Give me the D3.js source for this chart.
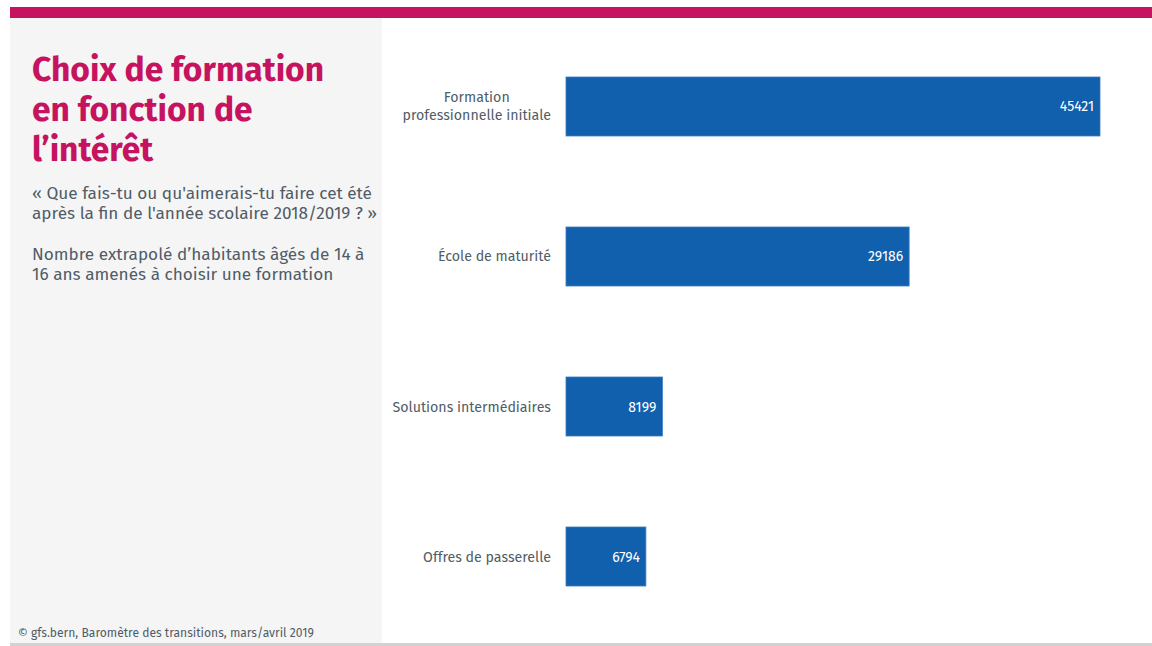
<!DOCTYPE html>
<html>
<head>
<meta charset="utf-8">
<script src="https://cdn.jsdelivr.net/npm/d3@7"></script>
<style>
  body { margin: 0; background: #fff; }
  svg { display: block; font-family: "Fira Sans", Roboto, "Open Sans", sans-serif; }
</style>
</head>
<body>
<div id="chart"></div>
<script>
// Data
const categories = [
  ["Formation", "professionnelle initiale"],
  ["École de maturité"],
  ["Solutions intermédiaires"],
  ["Offres de passerelle"]
];
const values = [45421, 29186, 8199, 6794];

const titleLines = ["Choix de formation", "en fonction de", "l’intérêt"];
const questionLines = ["« Que fais-tu ou qu'aimerais-tu faire cet été", "après la fin de l'année scolaire 2018/2019 ? »"];
const noteLines = ["Nombre extrapolé d’habitants âgés de 14 à", "16 ans amenés à choisir une formation"];
const source = "© gfs.bern, Baromètre des transitions, mars/avril  2019";

const width = 1152;
const height = 646;

const svg = d3.select("#chart")
  .append("svg")
  .attr("width", width)
  .attr("height", height);

// top band + side panel
svg.append("rect").attr("x", 10).attr("y", 17).attr("width", 372).attr("height", 627).style("fill", "#f5f5f5");
svg.append("rect").attr("x", 10).attr("y", 7).attr("width", width - 10).attr("height", 11).style("fill", "#c6135f");
svg.append("rect").attr("x", 10).attr("y", 643).attr("width", width - 10).attr("height", 3).style("fill", "#d2d2d2");

// title block
svg.append("text")
  .attr("x", 32)
  .attr("y", 81)
  .style("fill", "#c6135f")
  .style("font-size", "33.6px")
  .style("font-weight", "bold")
  .selectAll("tspan")
  .data(titleLines)
  .enter()
  .append("tspan")
  .attr("x", 32)
  .attr("dy", (d, i) => (i === 0 ? 0 : 40))
  .text((d) => d);

function paragraph(lines, y) {
  svg.append("text")
    .attr("x", 32)
    .attr("y", y)
    .style("fill", "#505c66")
    .style("font-size", "17.2px")
    .selectAll("tspan")
    .data(lines)
    .enter()
    .append("tspan")
    .attr("x", 32)
    .attr("dy", (d, i) => (i === 0 ? 0 : 20))
    .text((d) => d);
}
paragraph(questionLines, 199);
paragraph(noteLines, 260);

svg.append("text")
  .attr("x", 18)
  .attr("y", 637)
  .style("fill", "#505c66")
  .style("font-size", "12.1px")
  .text(source);

// bars
const x = d3.scaleLinear().domain([0, 45421]).range([566, 1100]);
const y = d3.scaleBand()
  .domain(d3.range(categories.length))
  .range([32, 631])
  .paddingInner(0.6067)
  .paddingOuter(0.3);

svg.selectAll(".bar")
  .data(values)
  .enter()
  .append("rect")
  .attr("class", "bar")
  .attr("x", x(0))
  .attr("y", (d, i) => y(i))
  .attr("width", (d) => x(d) - x(0))
  .attr("height", y.bandwidth())
  .style("fill", "#1060ad")
  .style("stroke", "#3a7cc0")
  .style("stroke-width", 0.8);

svg.selectAll(".value")
  .data(values)
  .enter()
  .append("text")
  .attr("class", "value")
  .attr("x", (d) => x(d) - 6)
  .attr("y", (d, i) => y(i) + y.bandwidth() / 2 + 5)
  .attr("text-anchor", "end")
  .style("fill", "#fff")
  .style("font-size", "14px")
  .text((d) => d);

// category labels
const labels = svg.selectAll(".cat")
  .data(categories)
  .enter()
  .append("text")
  .attr("class", "cat")
  .attr("text-anchor", "middle")
  .style("fill", "#505c66")
  .style("font-size", "14.2px")
  .attr("y", (d, i) => y(i) + y.bandwidth() / 2 + 5 - (d.length - 1) * 9);

labels.selectAll("tspan")
  .data((d) => d)
  .enter()
  .append("tspan")
  .attr("dy", (d, i) => (i === 0 ? 0 : 18))
  .text((d) => d);

// centre each label block, right edge at 551
labels.each(function () {
  const spans = d3.select(this).selectAll("tspan");
  const w = d3.max(spans.nodes(), (n) => n.getComputedTextLength());
  spans.attr("x", 551 - w / 2);
});
</script>
</body>
</html>
